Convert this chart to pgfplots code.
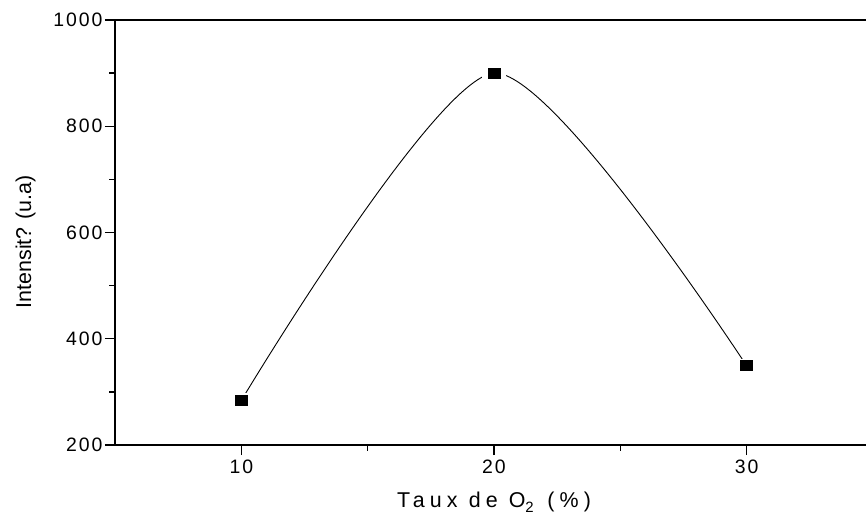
\documentclass[border=0pt]{standalone}
\usepackage{fontspec}
\setmainfont{Liberation Sans}
\newfontfamily\tickfont[LetterSpace=10]{Liberation Sans}
\newfontfamily\labfont[LetterSpace=24]{Liberation Sans}
\usepackage{pgfplots}
\pgfplotsset{compat=1.18}
\begin{document}
\begin{tikzpicture}
\begin{axis}[name=ax, scale only axis, width=758bp, height=425bp,
  xmin=5, xmax=35, ymin=200, ymax=1000,
  xtick={10,20,30}, minor xtick={15,25,35},
  ytick={200,400,600,800,1000}, minor ytick={300,500,700,900},
  tick align=outside, xtick pos=bottom, ytick pos=left,
  major tick length=10bp, minor tick length=5.5bp,
  axis line style={line width=1.6bp},
  every tick/.style={line width=1.4bp, black},
  /pgf/number format/assume math mode=true,
  /pgf/number format/1000 sep={},
  tick label style={font={\tickfont\fontsize{19.5}{22}\selectfont}},
  xticklabel style={yshift=-1bp},
  yticklabel style={xshift=1bp},
  xlabel={Taux de O\raisebox{-0.5ex}{\fontsize{15}{16}\selectfont 2\,} (\%)},
  xlabel style={font={\labfont\fontsize{21.5}{24}\selectfont},
    at={(axis description cs:0.5,0)}, anchor=base, yshift=-62bp},
  ylabel={Intensit? (u.a)},
  ylabel style={font={\fontsize{21.5}{24}\selectfont},
    at={(axis description cs:-0.1108,0.478)}, anchor=base},
]
\addplot[black, line width=0.9bp, smooth, tension=0.42] coordinates {(10,284) (20,900) (30,349)};
\addplot[white, only marks, mark=square*, mark size=7bp, mark options={draw=white, fill=white, xscale=1.65}] coordinates {(10,284) (20,900) (30,349)};
\addplot[black, only marks, mark=square*, mark size=5bp, mark options={draw=black, fill=black, line width=0pt, xscale=1.2}] coordinates {(10,284) (20,900) (30,349)};
\end{axis}
\pgfresetboundingbox
\path[use as bounding box] (ax.south west) ++(-115bp,445bp) rectangle ++(866bp,-518bp);
\end{tikzpicture}
\end{document}
